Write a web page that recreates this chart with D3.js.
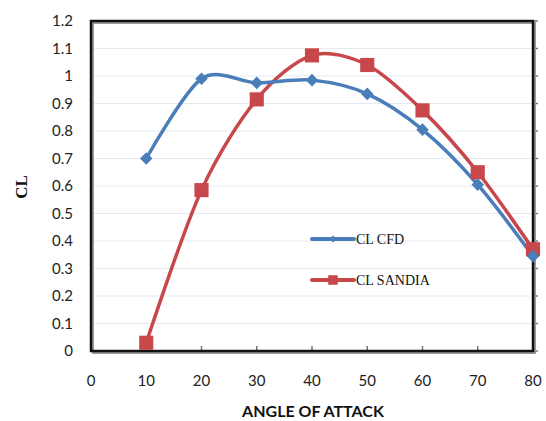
<!DOCTYPE html>
<html>
<head>
<meta charset="utf-8">
<script src="https://cdn.jsdelivr.net/npm/d3@7"></script>
<style>
  body { margin: 0; background: #fff; }
</style>
</head>
<body>
<div id="chart"></div>
<script>
// angle of attack (deg)
const angles = [10, 20, 30, 40, 50, 60, 70, 80];
const clCfd = [0.70, 0.99, 0.975, 0.985, 0.935, 0.805, 0.605, 0.345];
const clSandia = [0.03, 0.585, 0.915, 1.075, 1.04, 0.875, 0.65, 0.37];
const xTicks = [0, 10, 20, 30, 40, 50, 60, 70, 80];
const yTicks = [0, 0.1, 0.2, 0.3, 0.4, 0.5, 0.6, 0.7, 0.8, 0.9, 1, 1.1, 1.2];

const w = 546, h = 421;
const plotLeft = 91, plotRight = 533, plotTop = 21, plotBottom = 351;

const svg = d3.select("#chart")
  .append("svg")
  .attr("width", w)
  .attr("height", h);

const x = d3.scaleLinear().domain([0, 80]).range([plotLeft, plotRight]);
const y = d3.scaleLinear().domain([0, 1.2]).range([plotBottom, plotTop]);

// faint gridlines
svg.selectAll("line.grid")
  .data(yTicks.slice(1, -1))
  .enter()
  .append("line")
  .attr("class", "grid")
  .attr("x1", plotLeft).attr("x2", plotRight)
  .attr("y1", d => y(d)).attr("y2", d => y(d))
  .attr("stroke", "#e4eaf2")
  .attr("stroke-width", 1);

// y tick labels
svg.selectAll("text.ytick")
  .data(yTicks)
  .enter()
  .append("text")
  .attr("x", 73)
  .attr("y", d => y(d) + 5)
  .attr("text-anchor", "end")
  .style("font-family", "Lato, 'Open Sans', sans-serif")
  .style("font-size", "15px")
  .attr("fill", "#222")
  .text(d => d);

// x tick labels
svg.selectAll("text.xtick")
  .data(xTicks)
  .enter()
  .append("text")
  .attr("x", d => x(d))
  .attr("y", 386)
  .attr("text-anchor", "middle")
  .style("font-family", "Lato, 'Open Sans', sans-serif")
  .style("font-size", "15px")
  .attr("fill", "#222")
  .text(d => d);

// right-side ticks
svg.selectAll("line.rtick")
  .data(yTicks)
  .enter()
  .append("line")
  .attr("x1", plotRight).attr("x2", plotRight + 5)
  .attr("y1", d => y(d)).attr("y2", d => y(d))
  .attr("stroke", "#777")
  .attr("stroke-width", 1.5);

// bottom ticks
svg.selectAll("line.btick")
  .data(xTicks)
  .enter()
  .append("line")
  .attr("x1", d => x(d)).attr("x2", d => x(d))
  .attr("y1", plotBottom).attr("y2", plotBottom - 5)
  .attr("stroke", "#777")
  .attr("stroke-width", 1.5);

// plot frame with a soft shadow
svg.append("rect")
  .attr("x", plotLeft + 2).attr("y", plotTop + 2)
  .attr("width", plotRight - plotLeft).attr("height", plotBottom - plotTop)
  .attr("fill", "none")
  .attr("stroke", "#999")
  .attr("stroke-width", 2);
svg.append("rect")
  .attr("x", plotLeft).attr("y", plotTop)
  .attr("width", plotRight - plotLeft).attr("height", plotBottom - plotTop)
  .attr("fill", "none")
  .attr("stroke", "#111")
  .attr("stroke-width", 2.5);

const line = d3.line()
  .x(d => x(d[0]))
  .y(d => y(d[1]))
  .curve(d3.curveCardinal.tension(0.1));

const blue = "#4a7ebb", red = "#c8474a";
const cfd = angles.map((a, i) => [a, clCfd[i]]);
const sandia = angles.map((a, i) => [a, clSandia[i]]);

svg.append("path")
  .attr("d", line(sandia))
  .attr("fill", "none")
  .attr("stroke", red)
  .attr("stroke-width", 3.5);

svg.append("path")
  .attr("d", line(cfd))
  .attr("fill", "none")
  .attr("stroke", blue)
  .attr("stroke-width", 3.5);

const diamond = d3.symbol().type(d3.symbolDiamond2).size(100);
const square = d3.symbol().type(d3.symbolSquare).size(200);

svg.selectAll("path.sq")
  .data(sandia)
  .enter()
  .append("path")
  .attr("d", square)
  .attr("transform", d => "translate(" + x(d[0]) + "," + y(d[1]) + ")")
  .attr("fill", red);

svg.selectAll("path.dm")
  .data(cfd)
  .enter()
  .append("path")
  .attr("d", diamond)
  .attr("transform", d => "translate(" + x(d[0]) + "," + y(d[1]) + ")")
  .attr("fill", blue);

// legend
const legend = [
  { name: "CL CFD", color: blue, sym: d3.symbol().type(d3.symbolDiamond2).size(30), ly: 239 },
  { name: "CL SANDIA", color: red, sym: d3.symbol().type(d3.symbolSquare).size(90), ly: 280 }
];
legend.forEach(l => {
  svg.append("line")
    .attr("x1", 312).attr("x2", 354)
    .attr("y1", l.ly).attr("y2", l.ly)
    .attr("stroke", l.color)
    .attr("stroke-width", 4)
    .attr("stroke-linecap", "round");
  svg.append("path")
    .attr("d", l.sym)
    .attr("transform", "translate(333," + l.ly + ")")
    .attr("fill", l.color);
  svg.append("text")
    .attr("x", 356)
    .attr("y", l.ly + 5)
    .style("font-family", "'Liberation Serif', 'DejaVu Serif', serif")
    .style("font-size", "14px")
    .attr("fill", "#111")
    .text(l.name);
});

// axis titles
svg.append("text")
  .attr("x", 313)
  .attr("y", 417)
  .attr("text-anchor", "middle")
  .style("font-family", "Lato, 'Open Sans', sans-serif")
  .style("font-weight", "bold")
  .style("font-size", "16px")
  .attr("fill", "#111")
  .text("ANGLE OF ATTACK");

svg.append("text")
  .attr("transform", "translate(27,187) rotate(-90)")
  .attr("text-anchor", "middle")
  .style("font-family", "'Liberation Serif', serif")
  .style("font-weight", "bold")
  .style("font-size", "17px")
  .attr("fill", "#111")
  .text("CL");
</script>
</body>
</html>
